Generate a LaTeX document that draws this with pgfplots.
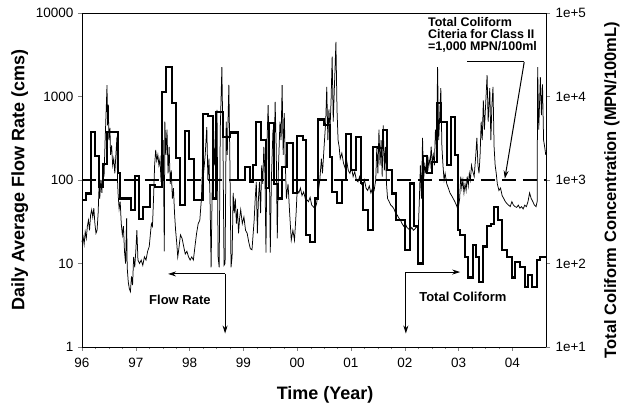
\documentclass[border=0pt]{standalone}
\usepackage{pgfplots}
\pgfplotsset{compat=1.18}
\usepackage{pgfplotstable}
\usepackage{fontspec}
\setmainfont{Liberation Sans}
\usetikzlibrary{arrows.meta}

% daily average flow rate (cms), t = years after 1 Jan 1996
\pgfplotstableread{
t f
0.00 18
0.02 21
0.04 17
0.06 24
0.08 20
0.10 28
0.12 33
0.14 25
0.16 38
0.18 44
0.20 36
0.22 46
0.24 30
0.26 23
0.28 25
0.30 40
0.32 95
0.33 60
0.35 100
0.37 70
0.39 160
0.41 110
0.43 300
0.45 700
0.465 1370
0.475 450
0.49 800
0.50 300
0.52 420
0.53 200
0.55 260
0.57 150
0.59 180
0.61 120
0.63 200
0.65 330
0.66 100
0.67 70
0.69 45
0.71 55
0.73 30
0.75 22
0.77 28
0.79 14
0.81 10
0.83 35
0.84 9
0.86 6
0.88 5
0.90 4.6
0.92 7
0.94 5.5
0.96 12
0.98 9
1.00 14
1.02 25
1.04 11
1.07 10
1.10 11
1.13 9.5
1.16 12
1.19 11
1.22 14
1.25 16
1.27 22
1.29 30
1.31 28
1.33 60
1.35 150
1.37 230
1.39 170
1.41 200
1.43 150
1.45 180
1.47 95
1.49 230
1.51 300
1.53 14
1.54 500
1.56 200
1.58 400
1.60 120
1.62 250
1.64 90
1.66 130
1.68 60
1.70 80
1.72 40
1.74 25
1.76 18
1.78 12
1.80 15
1.83 22
1.86 20
1.89 16
1.92 13
1.95 14
1.98 12
2.01 11
2.04 12
2.07 11
2.10 16
2.13 23
2.16 30
2.19 33
2.22 60
2.24 150
2.26 120
2.29 200
2.32 430
2.34 100
2.36 180
2.38 60
2.40 9
2.42 80
2.44 300
2.46 150
2.48 400
2.50 200
2.51 690
2.53 12
2.55 9
2.57 400
2.60 2240
2.62 300
2.64 9.5
2.66 10
2.68 500
2.70 200
2.73 1380
2.75 150
2.77 9
2.79 12
2.81 70
2.83 40
2.85 60
2.87 30
2.89 45
2.91 23
2.93 35
2.95 44
2.98 30
3.01 36
3.04 25
3.07 23
3.10 18
3.13 15
3.16 14.6
3.18 22
3.20 33
3.22 60
3.24 95
3.26 23
3.28 60
3.30 95
3.32 40
3.34 150
3.36 90
3.38 250
3.40 120
3.42 13.5
3.44 300
3.46 790
3.48 200
3.50 13.5
3.52 100
3.55 400
3.57 150
3.59 860
3.61 250
3.63 20
3.65 130
3.68 500
3.70 300
3.72 1370
3.74 200
3.76 630
3.78 150
3.80 60
3.83 90
3.86 40
3.89 19
3.92 25
3.95 19
3.98 40
4.00 76
4.03 70
4.06 80
4.09 65
4.12 72
4.15 60
4.18 58
4.21 55
4.24 62
4.27 50
4.30 48
4.33 45
4.36 52
4.39 70
4.42 100
4.45 180
4.47 120
4.50 250
4.53 500
4.55 1300
4.57 300
4.59 700
4.61 400
4.63 900
4.65 3000
4.67 500
4.69 1200
4.72 4500
4.74 700
4.76 300
4.78 250
4.80 180
4.83 210
4.86 160
4.89 140
4.92 170
4.95 130
4.98 120
5.01 140
5.04 110
5.07 125
5.10 100
5.13 95
5.16 110
5.19 90
5.22 85
5.25 100
5.28 80
5.31 75
5.34 85
5.37 70
5.40 80
5.43 75
5.46 100
5.48 250
5.50 120
5.52 400
5.54 150
5.56 300
5.58 110
5.60 450
5.62 130
5.64 250
5.66 90
5.68 60
5.71 55
5.74 50
5.77 48
5.80 45
5.83 40
5.86 38
5.89 35
5.92 33
5.95 30
5.98 28
6.01 30
6.04 27
6.07 26
6.10 25
6.13 27
6.16 25
6.19 26
6.22 28
6.25 25
6.27 55
6.29 150
6.31 60
6.33 320
6.35 100
6.37 150
6.39 120
6.41 200
6.43 130
6.45 180
6.47 150
6.49 250
6.51 160
6.53 200
6.55 150
6.57 400
6.59 250
6.61 2240
6.63 300
6.65 600
6.67 1260
6.69 250
6.71 150
6.73 100
6.75 120
6.78 90
6.81 80
6.84 70
6.87 65
6.90 60
6.93 55
6.96 50
6.99 44
7.02 60
7.04 110
7.06 80
7.08 100
7.10 70
7.12 90
7.14 75
7.16 110
7.18 85
7.20 120
7.22 100
7.24 150
7.26 130
7.29 110
7.32 200
7.34 320
7.36 150
7.38 120
7.40 200
7.42 500
7.44 300
7.46 900
7.48 400
7.53 1800
7.55 500
7.58 1260
7.60 300
7.62 800
7.64 1300
7.66 250
7.68 150
7.70 120
7.72 90
7.75 75
7.78 80
7.81 65
7.84 60
7.87 55
7.90 52
7.93 50
7.96 48
7.99 55
8.02 50
8.05 48
8.08 47
8.11 50
8.14 46
8.17 48
8.20 45
8.23 50
8.26 48
8.29 55
8.32 70
8.35 60
8.38 55
8.41 50
8.44 48
8.46 55
8.47 2240
8.49 400
8.52 1700
8.54 600
8.56 1400
8.58 300
8.60 250
8.62 200
}\flowtable

% total coliform (MPN/100mL), step values
\pgfplotstableread{
t c
0.000 570
0.074 690
0.167 3760
0.242 1940
0.316 830
0.390 1550
0.465 3760
0.670 1200
0.706 600
0.911 440
0.985 1120
1.060 340
1.134 480
1.264 870
1.357 830
1.487 11300
1.562 22400
1.673 8300
1.747 1830
1.822 500
1.915 3900
1.989 1780
2.082 570
2.249 6200
2.342 5900
2.435 600
2.491 6500
2.621 3300
2.751 3700
2.900 1000
3.030 1440
3.123 950
3.179 1500
3.235 4900
3.328 3000
3.421 800
3.476 4800
3.569 900
3.644 600
3.718 1440
3.811 2760
3.923 700
3.997 3400
4.108 3000
4.164 220
4.238 180
4.331 600
4.387 5300
4.499 4600
4.610 1900
4.648 720
4.740 530
4.833 1000
4.908 3570
5.001 1320
5.094 3300
5.187 920
5.224 440
5.317 250
5.410 2500
5.503 2400
5.596 4000
5.670 1320
5.763 690
5.837 330
6.005 145
6.098 910
6.172 280
6.246 100
6.339 1950
6.414 1200
6.507 1650
6.600 8300
6.674 4900
6.785 1500
6.860 5700
6.934 2000
6.990 250
7.027 220
7.120 120
7.176 68
7.269 166
7.325 120
7.380 60
7.455 160
7.529 280
7.603 300
7.659 480
7.733 330
7.808 145
7.901 120
7.994 68
8.050 105
8.142 90
8.235 52
8.291 73
8.365 52
8.458 110
8.514 120
8.625 120
}\colitable

\begin{document}
\begin{tikzpicture}
\begin{axis}[
  scale only axis, width=464pt, height=334pt,
  xmin=0, xmax=8.625,
  ymode=log, ymin=1, ymax=10000,
  tick align=outside,
  major tick length=4pt, minor tick length=2.5pt,
  yminorticks=false,
  tick label style={font=\fontsize{13.5}{13.5}\selectfont},
  xticklabel style={yshift=-4pt},
  yticklabel style={xshift=-1pt},
  clip=false,
  xtick={0,1,2,3,4,5,6,7,8},
  xticklabels={96,97,98,99,00,01,02,03,04},
  minor x tick num=3,
  xtick pos=left, ytick pos=left,
  ytick={1,10,100,1000,10000},
  yticklabels={1,10,100,1000,10000},
  xlabel={Time (Year)},
  ylabel={Daily Average Flow Rate (cms)},
  xlabel style={font=\bfseries\fontsize{18}{18}\selectfont, at={(axis description cs:0.524,-0.144)}, anchor=center},
  ylabel style={font=\bfseries\fontsize{18}{18}\selectfont, at={(axis description cs:-0.134,0.5)}, anchor=center},
]
\coordinate (bl) at (rel axis cs:0,0);
\coordinate (tr) at (rel axis cs:1,1);
\addplot[black, line width=0.75pt] table[x=t, y=f] {\flowtable};
\addplot[black, line width=2pt, dash pattern=on 14pt off 7pt] coordinates {(0,100) (8.625,100)};

% annotations
\node[font=\bfseries\fontsize{12.5}{12}\selectfont, anchor=north west, align=left, inner sep=0pt]
  at (axis cs:6.43,8800) {Total Coliform\\Citeria for Class II\\=1,000 MPN/100ml};
\draw[line width=1pt] (axis cs:7.16,2590) -- (axis cs:8.22,2590);
\draw[line width=1pt, -{Stealth[length=8pt,width=5pt]}] (axis cs:8.22,2590) -- (axis cs:7.86,104);

\draw[line width=0.9pt, -{Stealth[length=8pt,width=5pt]}] (axis cs:2.66,7.5) -- (axis cs:1.60,7.5);
\draw[line width=0.9pt, -{Stealth[length=8pt,width=5pt]}] (axis cs:2.66,7.5) -- (axis cs:2.66,1.45);
\node[font=\bfseries\fontsize{13}{13}\selectfont] at (axis cs:1.82,3.7) {Flow Rate};

\draw[line width=0.9pt, -{Stealth[length=8pt,width=5pt]}] (axis cs:6.02,7.9) -- (axis cs:7.03,7.9);
\draw[line width=0.9pt, -{Stealth[length=8pt,width=5pt]}] (axis cs:6.02,7.9) -- (axis cs:6.02,1.45);
\node[font=\bfseries\fontsize{13}{13}\selectfont] at (axis cs:7.08,3.97) {Total Coliform};
\end{axis}

\begin{axis}[
  scale only axis, width=464pt, height=334pt,
  xmin=0, xmax=8.625,
  ymode=log, ymin=10, ymax=100000,
  tick align=outside,
  major tick length=4pt,
  yminorticks=false,
  tick label style={font=\fontsize{13.5}{13.5}\selectfont},
  yticklabel style={xshift=2pt},
  axis x line=none,
  axis y line*=right,
  ytick={10,100,1000,10000,100000},
  yticklabels={1e+1,1e+2,1e+3,1e+4,1e+5},
  ylabel={Total Coliform Concentration (MPN/100mL)},
  ylabel style={font=\bfseries\fontsize{16.5}{16.5}\selectfont, at={(axis description cs:1.142,0.47)}, anchor=center},
]
\addplot[black, line width=2.2pt, const plot] table[x=t, y=c] {\colitable};
\end{axis}

\pgfresetboundingbox
\path ([shift={(-82pt,-60pt)}]bl) rectangle ([shift={(88pt,13pt)}]tr);
\end{tikzpicture}
\end{document}
